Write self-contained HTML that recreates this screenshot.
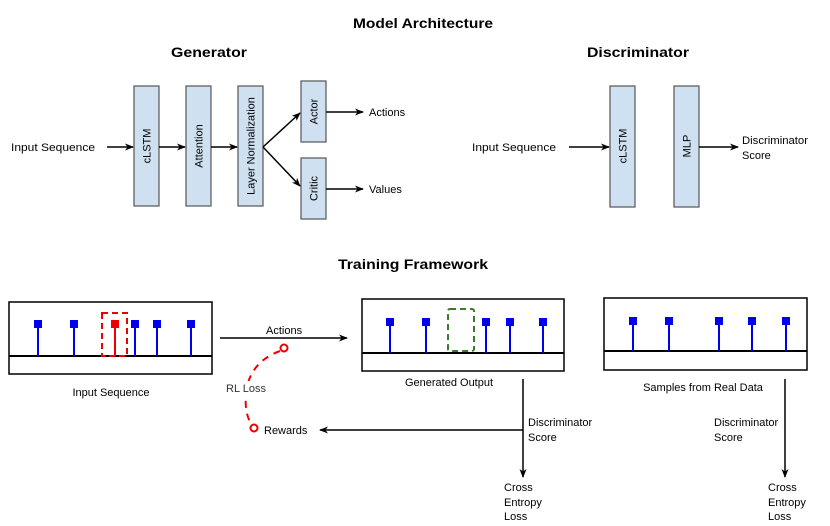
<!DOCTYPE html>
<html><head><meta charset="utf-8"><style>
html,body{margin:0;padding:0;background:#fff;}
svg{display:block;font-family:"Liberation Sans",Arial,sans-serif;}
</style></head><body>
<svg width="830" height="526" viewBox="0 0 830 526" xmlns="http://www.w3.org/2000/svg">
<defs>
<marker id="ah" markerWidth="9" markerHeight="7" refX="8" refY="3.5" orient="auto" markerUnits="userSpaceOnUse">
<path d="M0,0 L9,3.5 L0,7 L2.5,3.5 z" fill="#000"/></marker>
</defs>
<g font-weight="bold" font-size="14" text-anchor="middle" fill="#000">
<text x="423" y="28" textLength="140" lengthAdjust="spacingAndGlyphs">Model Architecture</text>
<text x="209" y="57" textLength="76" lengthAdjust="spacingAndGlyphs">Generator</text>
<text x="638" y="57" textLength="102" lengthAdjust="spacingAndGlyphs">Discriminator</text>
<text x="413" y="269" textLength="150" lengthAdjust="spacingAndGlyphs">Training Framework</text>
</g>
<g fill="#cfe0f1" stroke="#555" stroke-width="1.2">
<rect x="134" y="86" width="25" height="120"/>
<rect x="186" y="86" width="25" height="120"/>
<rect x="238" y="86" width="25" height="120"/>
<rect x="301" y="81" width="25" height="61"/>
<rect x="301" y="158" width="25" height="61"/>
<rect x="610" y="86" width="25" height="121"/>
<rect x="674" y="86" width="25" height="121"/>
</g>
<g font-size="11" text-anchor="middle" fill="#000">
<text transform="translate(150.5,146) rotate(-90)">cLSTM</text>
<text transform="translate(202.5,146) rotate(-90)">Attention</text>
<text transform="translate(254.5,146) rotate(-90)">Layer Normalization</text>
<text transform="translate(317.5,111.5) rotate(-90)">Actor</text>
<text transform="translate(317.5,188.5) rotate(-90)">Critic</text>
<text transform="translate(626.5,146) rotate(-90)">cLSTM</text>
<text transform="translate(690.5,146) rotate(-90)">MLP</text>
</g>
<g stroke="#000" stroke-width="1.5" fill="none" marker-end="url(#ah)">
<line x1="107" y1="147" x2="133" y2="147"/>
<line x1="159" y1="147" x2="185" y2="147"/>
<line x1="211" y1="147" x2="237" y2="147"/>
<line x1="263" y1="147" x2="300" y2="113"/>
<line x1="263" y1="147" x2="300" y2="186"/>
<line x1="326" y1="112" x2="363" y2="112"/>
<line x1="326" y1="189" x2="363" y2="189"/>
<line x1="569" y1="147" x2="609" y2="147"/>
<line x1="699" y1="147" x2="738" y2="147"/>
</g>
<g font-size="11" fill="#000">
<text x="11" y="151" textLength="84" lengthAdjust="spacingAndGlyphs">Input Sequence</text>
<text x="369" y="116">Actions</text>
<text x="369" y="193">Values</text>
<text x="472" y="151" textLength="84" lengthAdjust="spacingAndGlyphs">Input Sequence</text>
<text x="742" y="144" textLength="66" lengthAdjust="spacingAndGlyphs">Discriminator</text>
<text x="742" y="159">Score</text>
</g>
<g stroke="#000" stroke-width="1.5" fill="none">
<rect x="9" y="302" width="203" height="72"/>
<line x1="9" y1="356" x2="212" y2="356" stroke-width="2"/>
<rect x="362" y="299" width="202" height="72"/>
<line x1="362" y1="353" x2="564" y2="353" stroke-width="2"/>
<rect x="604" y="298" width="203" height="72"/>
<line x1="604" y1="351" x2="807" y2="351" stroke-width="2"/>
</g>
<g stroke="#0000ee" stroke-width="2">
<line x1="38" y1="324" x2="38" y2="356"/><line x1="74" y1="324" x2="74" y2="356"/>
<line x1="135" y1="324" x2="135" y2="356"/><line x1="157" y1="324" x2="157" y2="356"/><line x1="191" y1="324" x2="191" y2="356"/>
<line x1="390" y1="321" x2="390" y2="353"/><line x1="426" y1="321" x2="426" y2="353"/>
<line x1="486" y1="321" x2="486" y2="353"/><line x1="510" y1="321" x2="510" y2="353"/><line x1="543" y1="321" x2="543" y2="353"/>
<line x1="633" y1="320" x2="633" y2="351"/><line x1="669" y1="320" x2="669" y2="351"/>
<line x1="719" y1="320" x2="719" y2="351"/><line x1="752" y1="320" x2="752" y2="351"/><line x1="786" y1="320" x2="786" y2="351"/>
</g>
<g fill="#0000ee">
<rect x="34" y="320" width="8" height="8"/><rect x="70" y="320" width="8" height="8"/>
<rect x="131" y="320" width="8" height="8"/><rect x="153" y="320" width="8" height="8"/><rect x="187" y="320" width="8" height="8"/>
<rect x="386" y="318" width="8" height="8"/><rect x="422" y="318" width="8" height="8"/>
<rect x="482" y="318" width="8" height="8"/><rect x="506" y="318" width="8" height="8"/><rect x="539" y="318" width="8" height="8"/>
<rect x="629" y="317" width="8" height="8"/><rect x="665" y="317" width="8" height="8"/>
<rect x="715" y="317" width="8" height="8"/><rect x="748" y="317" width="8" height="8"/><rect x="782" y="317" width="8" height="8"/>
</g>
<line x1="115" y1="324" x2="115" y2="356" stroke="#ee0000" stroke-width="2"/>
<rect x="111" y="320" width="8" height="8" fill="#ee0000"/>
<rect x="102" y="313" width="25" height="43" fill="none" stroke="#ee0000" stroke-width="2" stroke-dasharray="6,4"/>
<rect x="448" y="309" width="26" height="42" rx="2" fill="none" stroke="#3a7a2a" stroke-width="2" stroke-dasharray="6,4"/>
<g font-size="11" fill="#000" text-anchor="middle">
<text x="111" y="396">Input Sequence</text>
<text x="449" y="386">Generated Output</text>
<text x="703" y="391">Samples from Real Data</text>
</g>
<g stroke="#000" stroke-width="1.5" fill="none" marker-end="url(#ah)">
<line x1="220" y1="338" x2="347" y2="338"/>
<line x1="523" y1="379" x2="523" y2="477"/>
<line x1="523" y1="430" x2="320" y2="430"/>
<line x1="785" y1="379" x2="785" y2="477"/>
</g>
<path d="M280,351 Q250,362 246,392 Q244,416 253,426" fill="none" stroke="#ee0000" stroke-width="2" stroke-dasharray="7,6"/>
<circle cx="284" cy="348" r="3.5" fill="#fff" stroke="#ee0000" stroke-width="2"/>
<circle cx="254" cy="428" r="3.5" fill="#fff" stroke="#ee0000" stroke-width="2"/>
<rect x="224" y="381" width="46" height="14" fill="#fff"/>
<g font-size="11" fill="#000">
<text x="266" y="334">Actions</text>
<text x="226" y="392" fill="#333">RL Loss</text>
<text x="264" y="434">Rewards</text>
<text x="528" y="426">Discriminator</text>
<text x="528" y="441">Score</text>
<text x="504" y="491">Cross</text>
<text x="504" y="506">Entropy</text>
<text x="504" y="520">Loss</text>
<text x="714" y="426">Discriminator</text>
<text x="714" y="441">Score</text>
<text x="768" y="491">Cross</text>
<text x="768" y="506">Entropy</text>
<text x="768" y="520">Loss</text>
</g>
</svg>
</body></html>
